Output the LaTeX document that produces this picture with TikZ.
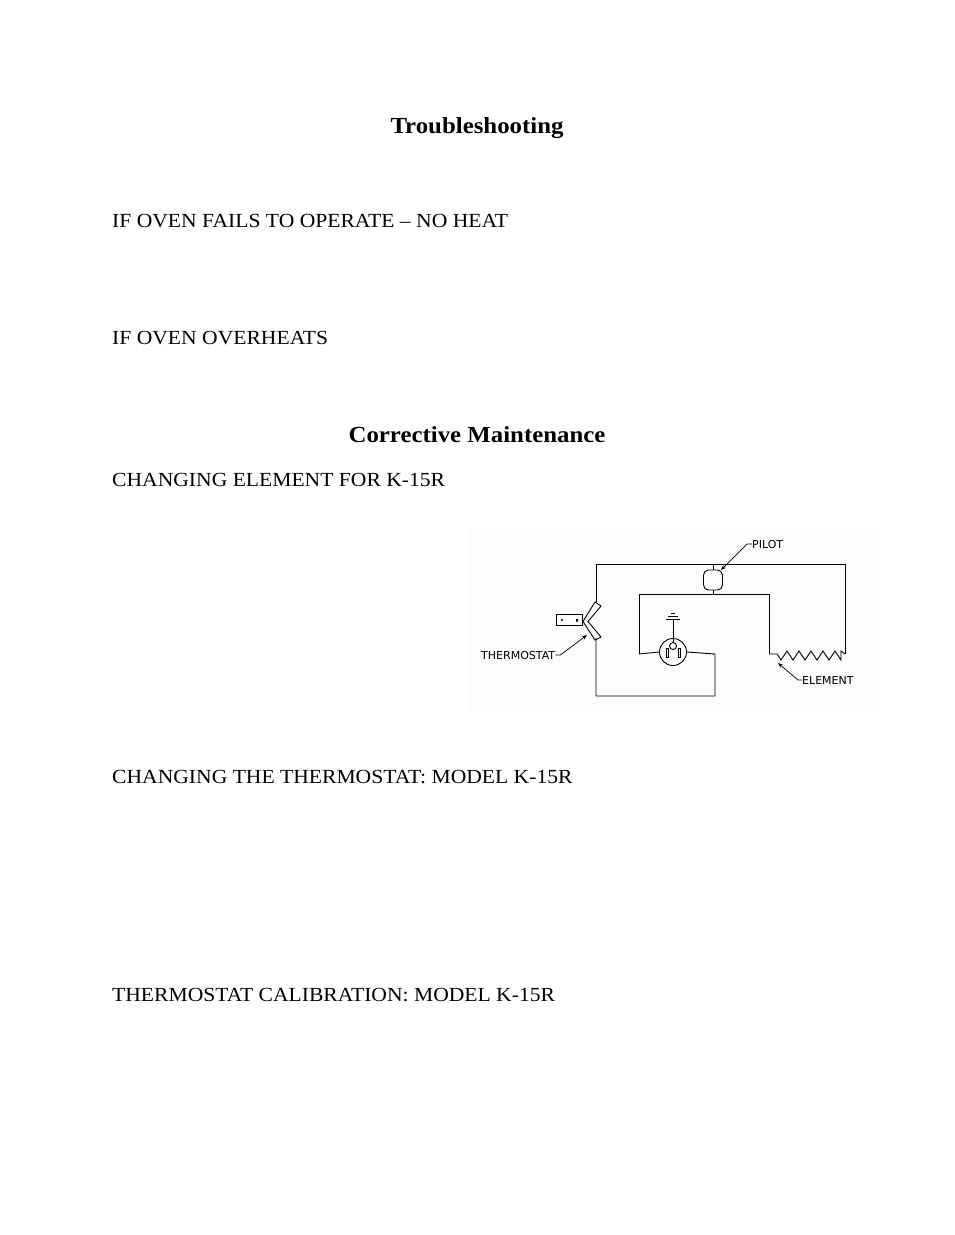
\documentclass[tikz,border=0pt]{standalone}
\usepackage{fontspec}
\setmainfont{Liberation Serif}[FakeStretch=1.08]
\newfontfamily\cadfont{DejaVu Sans}
\usetikzlibrary{positioning,arrows.meta}

\begin{document}
\begin{tikzpicture}[x=1pt,y=-1pt,
  body/.style={anchor=base west,inner sep=0pt,font=\fontsize{20}{22}\selectfont},
  head/.style={anchor=base,inner sep=0pt,font=\fontsize{23}{25}\selectfont\bfseries},
  cad/.style={inner sep=0pt,font=\cadfont\fontsize{11}{12}\selectfont},
  wire/.style={line width=0.9pt},
  lead/.style={line width=0.7pt,-{Stealth[length=5pt]}}]
\useasboundingbox (0,0) rectangle (954,1235);

% page text
\node[head] (t1) at (477,133) {Troubleshooting};
\node[body] (s1) at (112,227) {IF OVEN FAILS TO OPERATE -- NO HEAT};
\node[body] (s2) at (112,344) {IF OVEN OVERHEATS};
\node[head] (t2) at (477,442) {Corrective Maintenance};
\node[body] (s3) at (112,486) {CHANGING ELEMENT FOR K-15R};
\node[body] (s4) at (112,783) {CHANGING THE THERMOSTAT: MODEL K-15R};
\node[body] (s5) at (112,1001) {THERMOSTAT CALIBRATION: MODEL K-15R};

% circuit
\fill[black!1] (468,527) rectangle (880,712);
\coordinate (tc1) at (596,603);
\coordinate (tc2) at (596,638);
\coordinate (el1) at (769,654);
\coordinate (el2) at (845,654);
\node[draw,wire,rounded corners=5pt,minimum width=19pt,minimum height=20pt,inner sep=0pt] (pilot) at (713,580) {};
\draw[wire] (tc1) -- (596,564) -- (845,564) -- (el2);
\draw[wire] (pilot.north) -- (713,564);
\draw[wire] (pilot.south) -- (713,594);
\draw[wire] (639,654) -- (639,594) -- (769,594) -- (el1);
% element
\draw[wire] (el1) -- (777,654) -- (781,660)
  \foreach \i in {0,...,4} { -- ++(6,-9) -- ++(6,9) } -- (841,651) -- (el2);
% outlet
\node[draw,wire,circle,minimum size=27pt,inner sep=0pt] (outlet) at (673,652) {};
\draw[wire] (673,646) circle (3.5);
\draw[wire] (666,648) rectangle (668,657);
\draw[wire] (678,648) rectangle (680,657);
\draw[wire] (673,642.5) -- (673,619);
\draw[wire] (666,619) -- (680,619) (668,616) -- (678,616) (671,613) -- (675,613);
\draw[wire] (639,654) -- (outlet.west);
\draw[wire] (outlet.east) -- (715,654) -- (715,696) -- (596,696) -- (tc2);
% thermostat
\draw[wire] (595,602) -- (601,606) -- (588,621.5) -- (601,637) -- (595,640)
  -- (583,621.5) -- cycle;
\node[draw,wire,minimum width=26pt,minimum height=11pt,inner sep=0pt] (tbox) at (569,620) {};
\fill (562,620) circle (1.2) (576,619) rectangle (578,621.5);
% labels
\node[cad,anchor=west] (lpilot) at (752,544) {PILOT};
\draw[lead] (lpilot.west) -- ++(-5,0) -- (721,570);
\node[cad,anchor=west] (ltherm) at (481,655) {THERMOSTAT};
\draw[lead] (ltherm.east) -- ++(5,0) -- (587,635);
\node[cad,anchor=west] (lelem) at (802,680) {ELEMENT};
\draw[lead] (lelem.west) -- ++(-4,0) -- (778,663);
\end{tikzpicture}
\end{document}
